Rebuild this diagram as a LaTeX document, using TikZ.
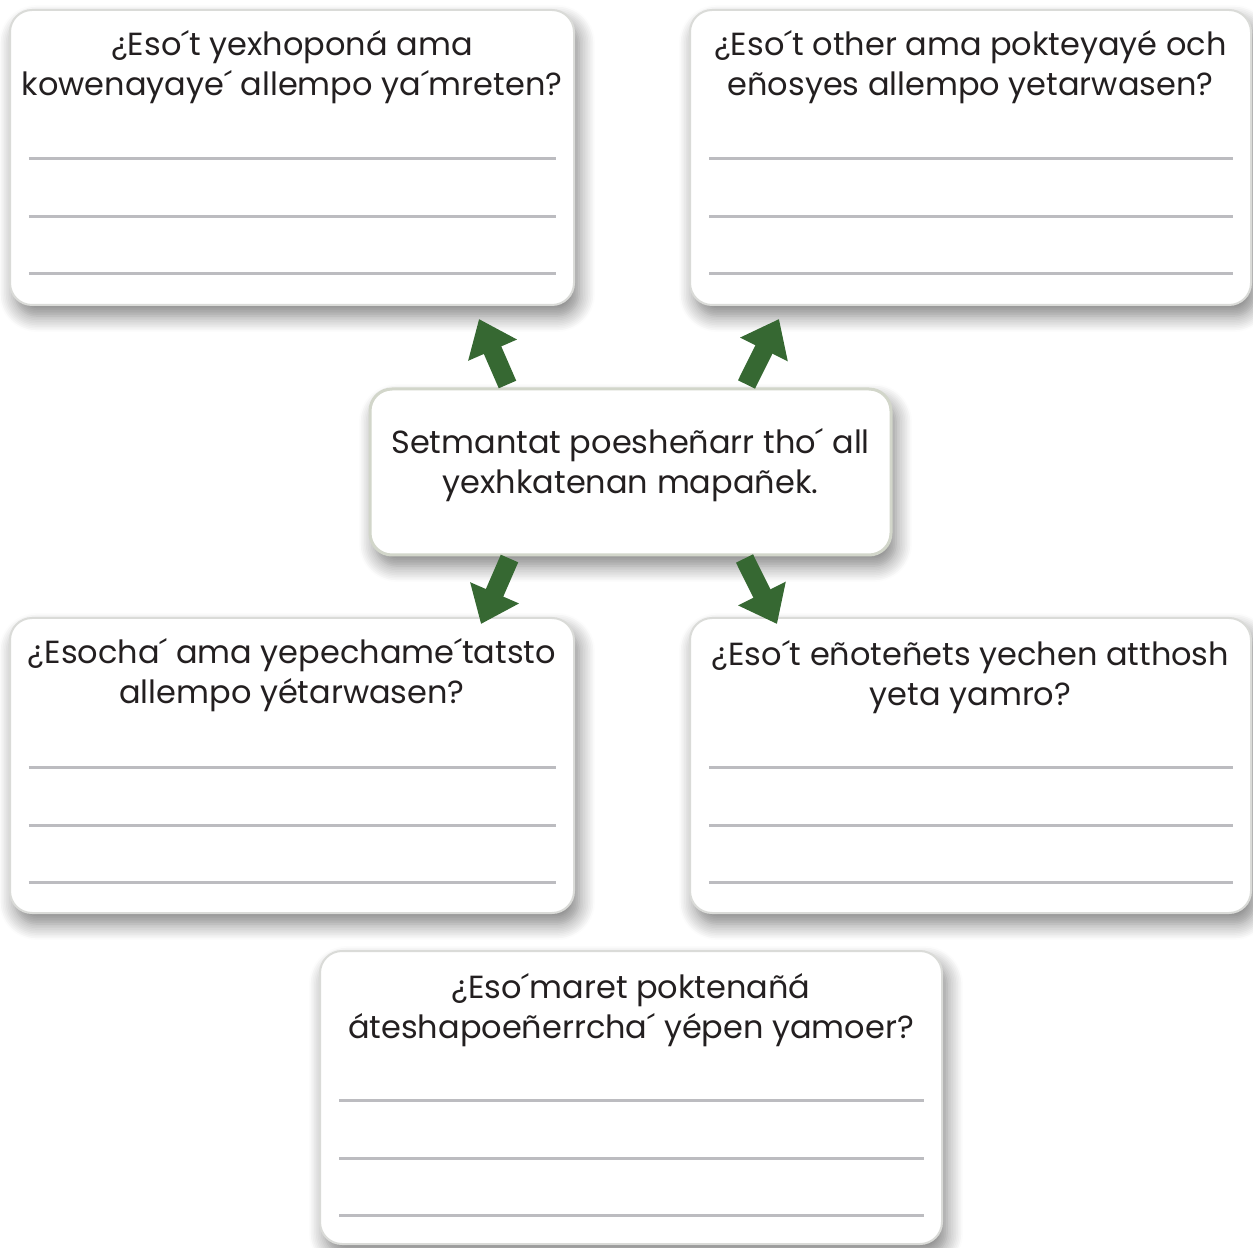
\documentclass[tikz,border=0pt]{standalone}
\usepackage{fontspec}
\setmainfont{Poppins}
\usetikzlibrary{positioning, arrows.meta, shadows.blur}

\definecolor{arrowgreen}{RGB}{54,104,50}
\definecolor{cardedge}{RGB}{218,219,216}
\definecolor{taskedge}{RGB}{210,214,202}
\definecolor{ruleline}{RGB}{188,188,192}
\definecolor{textgray}{RGB}{35,31,32}

\tikzset{
  card/.style={draw=cardedge, line width=0.02cm, fill=white, rounded corners=0.22cm,
    inner sep=0pt,
    blur shadow={shadow xshift=0.05cm, shadow yshift=-0.11cm,
      shadow blur radius=0.16cm, shadow blur steps=10, shadow opacity=50}},
  question/.style={align=center, text=textgray, inner sep=0pt,
    font=\fontsize{9.1}{11.38}\selectfont},
  answerline/.style={draw=ruleline, line width=0.03cm},
  bigarrow/.style={arrowgreen, line width=0.19cm,
    -{Triangle[length=0.34cm, width=0.51cm]}},
}

\begin{document}
\begin{tikzpicture}
  \useasboundingbox (0,0) rectangle (12.53,-12.48);

  %--------------------------
  % Cards
  %--------------------------
  \node[card, minimum width=5.64cm, minimum height=2.95cm] (ask1) at (2.92,-1.575) {};
  \node[card, minimum width=5.61cm, minimum height=2.95cm] (ask2) at (9.705,-1.575) {};
  \node[card, minimum width=5.64cm, minimum height=2.95cm] (ask3) at (2.92,-7.655) {};
  \node[card, minimum width=5.61cm, minimum height=2.95cm] (ask4) at (9.705,-7.655) {};
  \node[card, minimum width=6.22cm, minimum height=2.93cm] (ask5) at (6.31,-10.975) {};

  % Centre card
  \node[card, draw=taskedge, line width=0.03cm, minimum width=5.21cm, minimum height=1.66cm]
    (task) at (6.305,-4.72) {};

  % Writing lines
  \foreach \c in {ask1,ask2,ask3,ask4,ask5}
    \foreach \d in {1.50,2.08,2.65}
      \draw[answerline] ([xshift=0.2cm,yshift=-\d cm]\c.north west)
        -- ([xshift=-0.19cm,yshift=-\d cm]\c.north east);

  %--------------------------
  % Texts (base = last line)
  %--------------------------
  \node[question, anchor=base] (ask1-text) at ([yshift=-0.87cm]ask1.north)
    {¿Eso´t yexhoponá ama\\kowenayaye´ allempo ya´mreten?};
  \node[question, anchor=base] (ask2-text) at ([yshift=-0.87cm]ask2.north)
    {¿Eso´t other ama pokteyayé och\\eñosyes allempo yetarwasen?};
  \node[question, anchor=base] (ask3-text) at ([yshift=-0.86cm]ask3.north)
    {¿Esocha´ ama yepechame´tatsto\\allempo yétarwasen?};
  \node[question, anchor=base] (ask4-text) at ([yshift=-0.88cm]ask4.north)
    {¿Eso´t eñoteñets yechen atthosh\\yeta yamro?};
  \node[question, anchor=base] (ask5-text) at ([yshift=-0.88cm]ask5.north)
    {¿Eso´maret poktenañá\\áteshapoeñerrcha´ yépen yamoer?};
  \node[question, anchor=base] (task-text) at ([yshift=-1.06cm]task.north)
    {Setmantat poesheñarr tho´ all\\yexhkatenan mapañek.};

  %--------------------------
  % Arrows
  %--------------------------
  \coordinate (tip1) at (4.79,-3.19);
  \coordinate (tip2) at (7.79,-3.19);
  \coordinate (tip3) at (4.81,-6.24);
  \coordinate (tip4) at (7.77,-6.24);

  \draw[bigarrow] ([xshift=1.39cm,yshift=0.03cm]task.north west) -- (tip1);
  \draw[bigarrow] ([xshift=3.78cm,yshift=0.03cm]task.north west) -- (tip2);
  \draw[bigarrow] ([xshift=1.41cm,yshift=-0.02cm]task.south west) -- (tip3);
  \draw[bigarrow] ([xshift=3.76cm,yshift=-0.02cm]task.south west) -- (tip4);

\end{tikzpicture}
\end{document}
